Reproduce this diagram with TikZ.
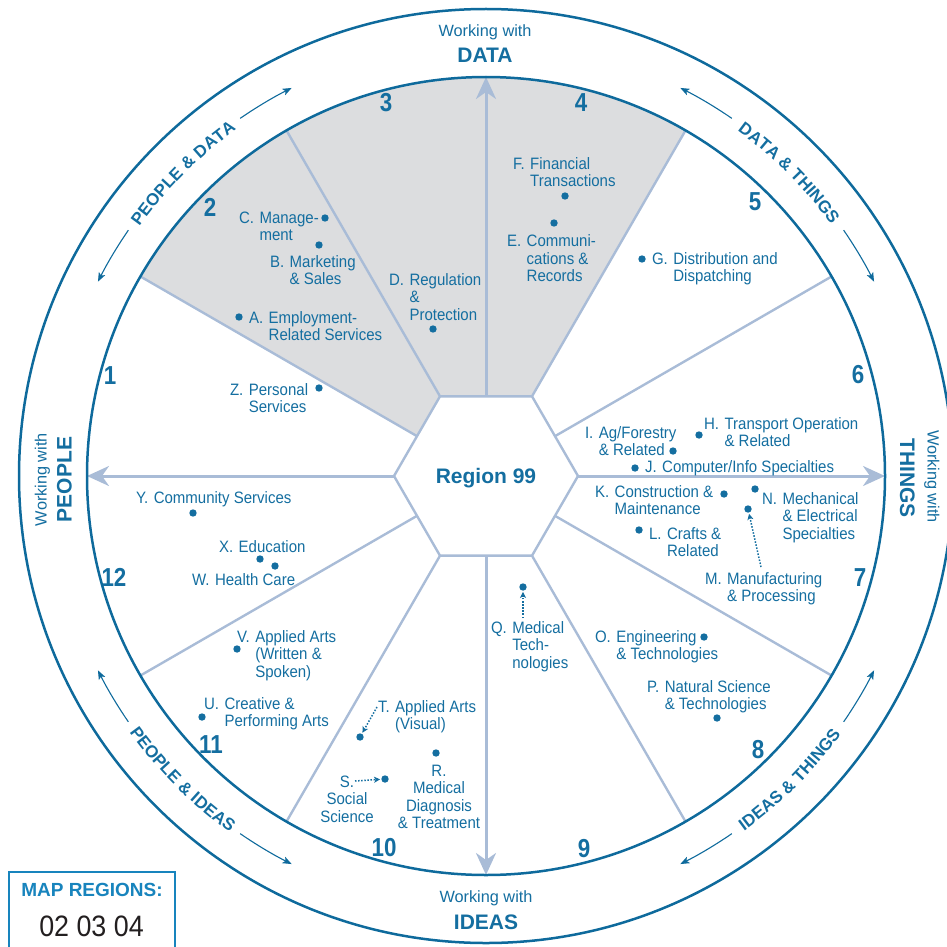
\documentclass[tikz,border=0pt]{standalone}
\usepackage{fontspec}
\setmainfont{Liberation Sans}
\newfontfamily\condfont[FakeStretch=0.91]{Liberation Sans}
\newfontfamily\numfontfam[FakeStretch=0.86]{Liberation Sans}
\usetikzlibrary{arrows.meta,decorations.text,calc}
\definecolor{dkblue}{HTML}{146EA0}
\definecolor{circblue}{HTML}{0E6A9C}
\definecolor{lightln}{HTML}{A9BCD7}
\definecolor{shadegrey}{HTML}{DCDDDF}
\definecolor{mapblue}{HTML}{1884BD}
\definecolor{darkgrey}{HTML}{231F20}
\newcommand\itemfont{\condfont\fontsize{16.5pt}{17.5pt}\selectfont}
\newcommand\numfont{\numfontfam\bfseries\fontsize{26pt}{26pt}\selectfont}
\newcommand\arcfont{\bfseries\fontsize{17pt}{18pt}\selectfont}
\newcommand\itm[2]{\begin{tabular}[t]{@{}l@{\hspace{5.5pt}}l@{}}#1&#2\end{tabular}}
\newcommand\ctr[1]{\begin{tabular}[t]{@{}c@{}}#1\end{tabular}}
\begin{document}
\begin{tikzpicture}[x=1pt,y=-1pt,
  lbl/.style={anchor=base west, inner sep=0pt, outer sep=0pt, text=dkblue, font=\itemfont},
  clbl/.style={anchor=base, inner sep=0pt, outer sep=0pt, text=dkblue, font=\itemfont},
  pt/.style={circle, fill=dkblue, inner sep=0pt, minimum size=7.4pt},
  regnum/.style={inner sep=0pt, text=dkblue, font=\numfont},
  spoke/.style={draw=lightln, line width=2.4pt},
  axisarrow/.style={draw=lightln, line width=3pt, -{Stealth[length=22pt,width=20pt,inset=7pt]}},
  ring/.style={draw=circblue, line width=2.5pt},
  arcarrow/.style={draw=circblue, line width=1.1pt, -{Stealth[length=9pt,width=7pt,inset=2pt]}},
  dotarrow/.style={draw=dkblue, line width=1.5pt, dash pattern=on 1.5pt off 1.6pt, -{Stealth[length=6pt,width=6pt,inset=1.5pt]}, shorten >=1pt},
  wtext/.style={anchor=base, inner sep=0pt, text=dkblue, font=\fontsize{16.3pt}{18pt}\selectfont},
  wbold/.style={anchor=base, inner sep=0pt, text=dkblue, font=\bfseries\fontsize{21pt}{21pt}\selectfont},
  arclabel/.style={decorate, decoration={text along path, text align=center, text color=dkblue, text={|\arcfont|#1}}},
]
\useasboundingbox (0,0) rectangle (947,947);
\coordinate (C) at (486,476);
% shaded sector (regions 2-4)
\fill[shadegrey] (C) -- ($(C)+(-60:399)$) arc[start angle=-60,end angle=-150,radius=399] -- cycle;
% spokes
\foreach \a in {30,60,120,150,210,240,300,330}
  \draw[spoke] (C) -- ($(C)+(-\a:399)$);
% axis arrows
\foreach \a in {0,90,180,270}
  \draw[axisarrow] (C) -- ($(C)+(-\a:399)$);
% hexagon
\draw[draw=lightln, line width=2.4pt, fill=white] ($(C)+(0:92)$) -- ($(C)+(60:92)$) -- ($(C)+(120:92)$) -- ($(C)+(180:92)$) -- ($(C)+(240:92)$) -- ($(C)+(300:92)$) -- cycle;
\node[wbold, text=dkblue] (reg) at (486,483.5) {Region 99};
% rings
\draw[ring] (C) circle[radius=399];
\draw[ring] (C) circle[radius=467];
% curved labels
\path[arclabel={PEOPLE {\&} DATA}] ($(C)+(-145:427)$) arc[start angle=-145,end angle=-125,radius=427];
\path[arclabel={DATA {\&} THINGS}] ($(C)+(-55:427)$) arc[start angle=-55,end angle=-35,radius=427];
\path[arclabel={PEOPLE {\&} IDEAS}] ($(C)+(145:439)$) arc[start angle=145,end angle=125,radius=439];
\path[arclabel={IDEAS {\&} THINGS}] ($(C)+(55:439)$) arc[start angle=55,end angle=35,radius=439];
% arc arrows
\foreach \c in {45,135,225,315}{
  \draw[arcarrow] ($(C)+(-\c-10.5:434)$) arc[start angle=-\c-10.5,end angle=-\c-18.4,radius=434];
  \draw[arcarrow] ($(C)+(-\c+10.5:434)$) arc[start angle=-\c+10.5,end angle=-\c+18.4,radius=434];
}
% working with labels
\node[wtext] (wD) at (485,36.5) {Working with};
\node[wbold] (lD) at (485,62.7) {DATA};
\node[wtext] (wI) at (486,902) {Working with};
\node[wbold] (lI) at (486,929) {IDEAS};
\node[wtext, rotate=90] (wP) at (46.7,479.5) {Working with};
\node[wbold, rotate=90] (lP) at (71.7,479.5) {PEOPLE};
\node[wtext, rotate=-90] (wT) at (927.7,476.5) {Working with};
\node[wbold, rotate=-90] (lT) at (900,478) {THINGS};
% region numbers
\node[regnum] (n1) at (110,376) {1};
\node[regnum] (n2) at (210,207) {2};
\node[regnum] (n3) at (386,103) {3};
\node[regnum] (n4) at (581,103) {4};
\node[regnum] (n5) at (755,202) {5};
\node[regnum] (n6) at (858,375) {6};
\node[regnum] (n7) at (860,578) {7};
\node[regnum] (n8) at (758,750) {8};
\node[regnum] (n9) at (584,849) {9};
\node[regnum] (n10) at (384,848) {10};
\node[regnum] (n11) at (211,745) {11};
\node[regnum] (n12) at (114,577) {12};
% item labels
\node[lbl] (tC) at (239,223) {\itm{C.}{Manage-\\&ment}};
\node[lbl] (tB) at (270,267) {\itm{B.}{Marketing\\&\& Sales}};
\node[lbl] (tA) at (249,323) {\itm{A.}{Employment-\\&Related Services}};
\node[lbl] (tD) at (389,285) {\itm{D.}{Regulation\\&\&\\&Protection}};
\node[lbl] (tZ) at (230,395) {\itm{Z.}{Personal\\&Services}};
\node[lbl] (tF) at (513,169) {\itm{F.}{Financial\\&Transactions}};
\node[lbl] (tE) at (507,246.5) {\itm{E.}{Communi-\\&cations \&\\&Records}};
\node[lbl] (tG) at (652,264) {\itm{G.}{Distribution and\\&Dispatching}};
\node[lbl] (tH) at (704,429) {\itm{H.}{Transport Operation\\&\& Related}};
\node[lbl] (tI) at (585,438) {\itm{I.}{Ag/Forestry\\&\& Related}};
\node[lbl] (tJ) at (645,472) {\itm{J.}{Computer/Info Specialties}};
\node[lbl] (tK) at (595,497) {\itm{K.}{Construction \&\\&Maintenance}};
\node[lbl] (tL) at (649,539) {\itm{L.}{Crafts \&\\&Related}};
\node[lbl] (tM) at (705,584) {\itm{M.}{Manufacturing\\&\& Processing}};
\node[lbl] (tN) at (762,504) {\itm{N.}{Mechanical\\&\& Electrical\\&Specialties}};
\node[lbl] (tO) at (595,642) {\itm{O.}{Engineering\\&\& Technologies}};
\node[lbl] (tP) at (647,692) {\itm{P.}{Natural Science\\&\& Technologies}};
\node[lbl] (tQ) at (491,633) {\itm{Q.}{Medical\\&Tech-\\&nologies}};
\node[clbl] (tR) at (439,776) {\ctr{R.\\Medical\\Diagnosis\\\& Treatment}};
\node[clbl] (tS) at (347,787) {\ctr{S.\\Social\\Science}};
\node[lbl] (tT) at (378,712) {\itm{T.}{Applied Arts\\&(Visual)}};
\node[lbl] (tU) at (204,709) {\itm{U.}{Creative \&\\&Performing Arts}};
\node[lbl] (tV) at (237,642) {\itm{V.}{Applied Arts\\&(Written \&\\&Spoken)}};
\node[lbl] (tW) at (192,585) {\itm{W.}{Health Care}};
\node[lbl] (tX) at (219,552) {\itm{X.}{Education}};
\node[lbl] (tY) at (136,503) {\itm{Y.}{Community Services}};
% dots
\node[pt] (dA) at (239,317) {};
\node[pt] (dB) at (319,245) {};
\node[pt] (dC) at (325,218) {};
\node[pt] (dD) at (433,329) {};
\node[pt] (dE) at (554,223) {};
\node[pt] (dF) at (565,196) {};
\node[pt] (dG) at (642,259) {};
\node[pt] (dH) at (699,435) {};
\node[pt] (dI) at (673,451) {};
\node[pt] (dJ) at (635,468) {};
\node[pt] (dK) at (724,494) {};
\node[pt] (dL) at (639,530) {};
\node[pt] (dM) at (748,509) {};
\node[pt] (dN) at (755,489) {};
\node[pt] (dO) at (704,637) {};
\node[pt] (dP) at (717,718) {};
\node[pt] (dQ) at (523,587) {};
\node[pt] (dR) at (436,753) {};
\node[pt] (dS) at (385,779) {};
\node[pt] (dT) at (360,737) {};
\node[pt] (dU) at (202,717) {};
\node[pt] (dV) at (237,649) {};
\node[pt] (dW) at (275,566) {};
\node[pt] (dX) at (260,559) {};
\node[pt] (dY) at (193,513) {};
\node[pt] (dZ) at (319,388) {};
% dotted pointers
\coordinate (aT) at (377,707);
\coordinate (aS) at (355,781);
\coordinate (aQ) at (523,618);
\coordinate (aM) at (761,567);
\draw[dotarrow] (aT) -- (dT);
\draw[dotarrow] (aS) -- (dS);
\draw[dotarrow] (aQ) -- (dQ);
\draw[dotarrow] (aM) -- (dM);
% map regions box
\draw[draw=mapblue, line width=2pt, fill=white] (9,872) rectangle (175,962);
\node[anchor=base, inner sep=0pt, text=mapblue, font=\bfseries\fontsize{19pt}{19pt}\selectfont] (mapt) at (92,896) {MAP REGIONS:};
\node[anchor=base, inner sep=0pt, text=darkgrey, font=\condfont\fontsize{29.5pt}{30pt}\selectfont] (mapn) at (91.5,936) {02 03 04};
\end{tikzpicture}
\end{document}
